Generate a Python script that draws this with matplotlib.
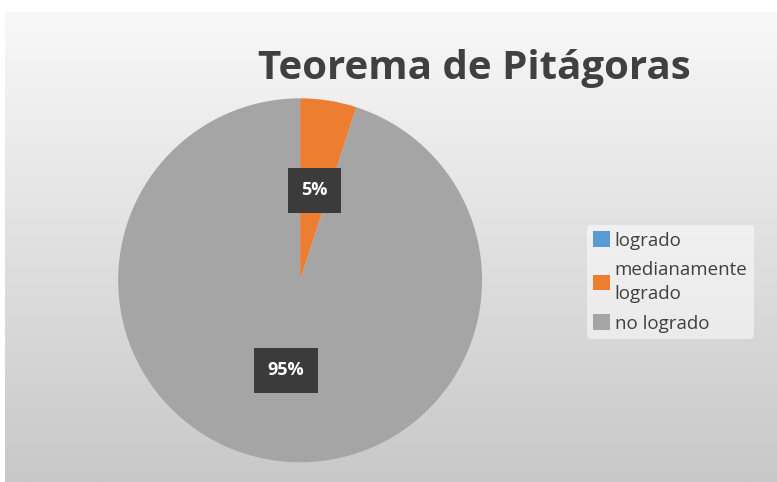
import matplotlib
matplotlib.use("Agg")
import matplotlib.pyplot as plt
import numpy as np
from matplotlib.patches import Patch
from matplotlib.colors import LinearSegmentedColormap

categories = ["logrado", "medianamente\nlogrado", "no logrado"]
values = [0, 5, 95]
colors = ["#5B9BD5", "#ED7D31", "#A5A5A5"]
title = "Teorema de Pitágoras"

fig = plt.figure(figsize=(7.77, 4.82), dpi=100)
fig.patch.set_facecolor("white")

# gradient background panel
bg = fig.add_axes([5/777, 0, 1 - 5/777, (482 - 12)/482])
grad = np.linspace(0, 1, 256).reshape(-1, 1)
cmap = LinearSegmentedColormap.from_list("g", ["#f8f8f8", "#c8c8c8"])
bg.imshow(grad, aspect="auto", cmap=cmap, extent=[0, 1, 0, 1], origin="upper")
bg.set_axis_off()

ax = fig.add_axes([0.152, 0.041, 0.4685, 0.755])
ax.set_facecolor("none")

def fmt(p):
    return f"{p:.0f}%" if p > 0.5 else ""

wedges, texts, autotexts = ax.pie(values, colors=colors, startangle=90, counterclock=False,
                                  autopct=fmt, pctdistance=0.5, radius=1.0,
                                  wedgeprops=dict(linewidth=0),
                                  textprops=dict(color="white", fontsize=13, fontweight="bold",
                                                 family="Open Sans"))
for t in autotexts:
    if t.get_text():
        t.set_bbox(dict(boxstyle="square,pad=0.75", facecolor="#3b3b3b", edgecolor="none"))
ax.set_xlim(-1, 1)
ax.set_ylim(-1, 1)
ax.set_aspect("equal")
ax.set_axis_off()

fig.text(0.611, 0.858, title, ha="center", va="center", fontsize=29,
         fontweight="bold", color="#404040", family="Open Sans")

handles = [Patch(facecolor=c, edgecolor="none") for c in colors]
leg = fig.legend(handles, categories, loc="center left", bbox_to_anchor=(0.743, 0.415),
                 frameon=True, handlelength=0.9, handleheight=0.9,
                 handletextpad=0.25, labelspacing=0.6, borderpad=0.35,
                 prop=dict(family="Open Sans", size=13.5))
leg.get_frame().set_facecolor("white")
leg.get_frame().set_alpha(0.5)
leg.get_frame().set_edgecolor("none")
for t in leg.get_texts():
    t.set_color("#404040")
    t.set_linespacing(1.45)

fig.savefig("out.png", dpi=100)
